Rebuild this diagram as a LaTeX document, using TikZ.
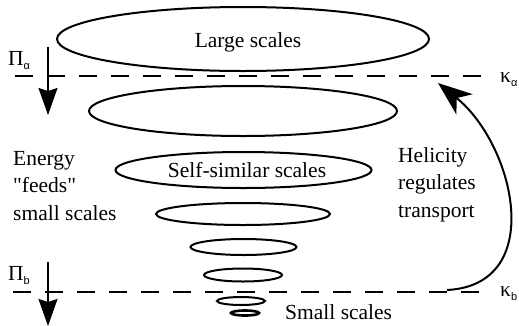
\documentclass[tikz,border=0pt]{standalone}
\usepackage{fontspec}
\setmainfont{Liberation Serif}[Ligatures=TeXOff]
\newfontfamily\subfont{Liberation Sans}
\usetikzlibrary{shapes.geometric,arrows.meta}
\begin{document}
\begin{tikzpicture}[x=1pt,y=-1pt,
  scaleell/.style={draw, ellipse, line width=2pt, inner sep=0pt, outer sep=0pt},
  txt/.style={inner sep=0pt, font=\fontsize{21.5}{27.5}\selectfont},
  sym/.style={inner sep=0pt, font=\fontsize{21.5}{24}\selectfont},
  subs/.style={font=\fontsize{11}{12}\selectfont\subfont},
  cutline/.style={line width=2pt, dash pattern=on 18pt off 14pt},
  flow/.style={line width=1.6pt, -{Stealth[length=27pt,width=19pt,inset=3pt]}},
  helix/.style={line width=2pt, -{Stealth[length=34pt,width=26pt,inset=10pt]}}
]
\useasboundingbox (0,0) rectangle (519,325);
% ellipses (scales)
\node[scaleell, minimum width=372pt, minimum height=64pt] (e1) at (243,39) {};
\node[scaleell, minimum width=308pt, minimum height=50pt] (e2) at (243,111) {};
\node[scaleell, minimum width=256pt, minimum height=36pt] (e3) at (243.5,170) {};
\node[scaleell, minimum width=174pt, minimum height=22pt] (e4) at (243,214) {};
\node[scaleell, minimum width=106pt, minimum height=16pt] (e5) at (243.5,247) {};
\node[scaleell, minimum width=78pt, minimum height=13pt] (e6) at (243,275) {};
\node[scaleell, minimum width=48pt, minimum height=8pt] (e7) at (241,301) {};
\node[scaleell, line width=2.6pt, minimum width=28pt, minimum height=5pt] (e8) at (245,313) {};
% texts
\node[txt, anchor=base] (large) at (248,47) {Large scales};
\node[txt, anchor=base] (self) at (247,177) {Self-similar scales};
\node[txt, anchor=base west] (small) at (285,319) {Small scales};
\node[txt, anchor=north west, align=left] (energy) at (13,151) {Energy\\"feeds"\\small scales};
\node[txt, anchor=north west, align=left] (helic) at (398,147) {Helicity\\regulates\\transport};
% cut-off lines
\coordinate (la) at (15,76); \coordinate (ra) at (490,76);
\coordinate (lb) at (13,292); \coordinate (rb) at (490,292);
\draw[cutline] (la) -- (ra);
\draw[cutline] (lb) -- (rb);
% labels
\node[sym, anchor=base west] (pia) at (8,65) {Π\raisebox{-4pt}{\tikz[baseline]\node[subs,inner sep=0pt,anchor=base]{α};}};
\node[sym, anchor=base west] (ka) at (500,82) {κ\raisebox{-4pt}{\tikz[baseline]\node[subs,inner sep=0pt,anchor=base]{α};}};
\node[sym, anchor=base west] (pib) at (8,280) {Π\raisebox{-4pt}{\tikz[baseline]\node[subs,inner sep=0pt,anchor=base]{b};}};
\node[sym, anchor=base west] (kb) at (500,296) {κ\raisebox{-4pt}{\tikz[baseline]\node[subs,inner sep=0pt,anchor=base]{b};}};
% flux arrows
\coordinate (fa0) at (48,47); \coordinate (fa1) at (48,115);
\coordinate (fb0) at (48,262); \coordinate (fb1) at (48,326);
\draw[flow] (fa0) -- (fa1);
\draw[flow] (fb0) -- (fb1);
% helicity arrow
\coordinate (h0) at (447,290); \coordinate (h1) at (438,83);
\draw[helix] (h0) .. controls (547,285) and (515,145) .. (h1);
\end{tikzpicture}
\end{document}
